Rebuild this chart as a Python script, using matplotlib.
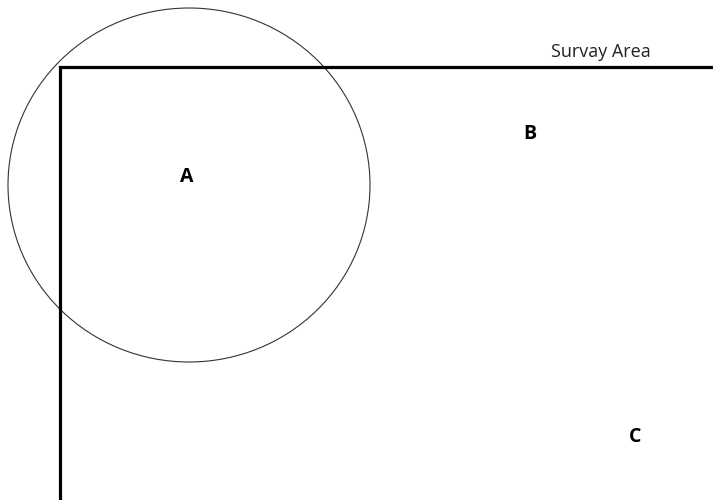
import matplotlib
matplotlib.use("Agg")
import matplotlib.pyplot as plt
from matplotlib.patches import Ellipse

# survey area border (corner + extents), in pixel units of the canvas
corner_x = 60
corner_y = 67
border_x = [corner_x, corner_x, 713]
border_y = [500, corner_y, corner_y]

# coverage circle
circle_center = (189, 185)
circle_w = 362
circle_h = 354

# point labels
labels = ["A", "B", "C"]
label_x = [187, 530, 635]
label_y = [177, 134, 437]

title_text = "Survay Area"
title_pos = (601, 52)

fig = plt.figure(figsize=(7.13, 5), dpi=100)
ax = fig.add_axes([0, 0, 1, 1])
ax.set_xlim(0, 713)
ax.set_ylim(500, 0)
ax.axis("off")

ax.plot(border_x, border_y, color="black", lw=2.3, solid_joinstyle="miter")
ax.add_patch(Ellipse(circle_center, circle_w, circle_h, fill=False,
                     edgecolor="#333333", lw=0.8))

for lab, x, y in zip(labels, label_x, label_y):
    ax.text(x, y, lab, ha="center", va="center", fontsize=14,
            fontweight="bold", family="Open Sans")

ax.text(title_pos[0], title_pos[1], title_text, ha="center", va="center",
        fontsize=13, family="Open Sans", color="#222222")

plt.savefig("out.png", dpi=100)
